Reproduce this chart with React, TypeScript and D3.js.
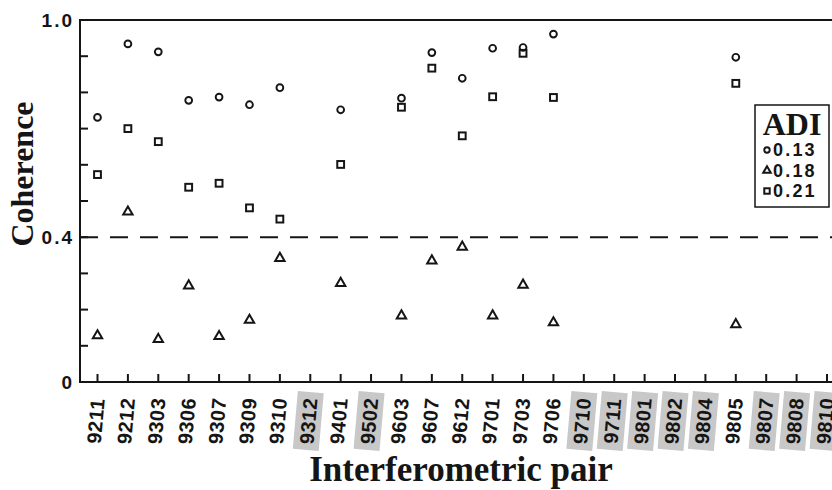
import React from 'react';
import * as d3 from 'd3';

// interferometric pairs along the x axis
const pairs = ['9211', '9212', '9303', '9306', '9307', '9309', '9310', '9312', '9401', '9502',
  '9603', '9607', '9612', '9701', '9703', '9706', '9710', '9711', '9801', '9802',
  '9804', '9805', '9807', '9808', '9810'];

// pairs with the grey box behind the label
const shadedPairs = ['9312', '9502', '9710', '9711', '9801', '9802', '9804', '9807', '9808', '9810'];

// coherence per ADI threshold (null = no point)
const adi013 = [0.731, 0.934, 0.912, 0.778, 0.787, 0.766, 0.813, null, 0.752, null,
  0.784, 0.910, 0.839, 0.922, 0.924, 0.961, null, null, null, null,
  null, 0.897, null, null, null];
const adi018 = [0.128, 0.470, 0.118, 0.266, 0.126, 0.171, 0.342, null, 0.273, null,
  0.183, 0.335, 0.373, 0.183, 0.268, 0.164, null, null, null, null,
  null, 0.159, null, null, null];
const adi021 = [0.573, 0.700, 0.664, 0.538, 0.549, 0.481, 0.450, null, 0.601, null,
  0.759, 0.867, 0.680, 0.788, 0.908, 0.786, null, null, null, null,
  null, 0.825, null, null, null];

const yTicks = [0, 0.1, 0.2, 0.3, 0.4, 0.5, 0.6, 0.7, 0.8, 0.9, 1.0];
const yLabels = [{ v: 0, t: '0' }, { v: 0.4, t: '0.4' }, { v: 1.0, t: '1.0' }];
const threshold = 0.4;
const legendItems = [{ key: 'c', label: '0.13' }, { key: 't', label: '0.18' }, { key: 's', label: '0.21' }];

const W = 832;
const H = 490;
const left = 80;
const top = 20;
const bottom = 382;
const right = 832;

const sans = '"Liberation Sans", Arial, sans-serif';
const serif = '"Liberation Serif", "Times New Roman", serif';
const ink = '#151515';

function Marker({ kind, x, y, s = 1 }: { kind: string; x: number; y: number; s?: number }) {
  if (kind === 'c') {
    return <circle cx={x} cy={y} r={3.4 * s} fill="none" stroke={ink} strokeWidth={1.9} />;
  }
  if (kind === 's') {
    const h = 3.4 * s;
    return <rect x={x - h} y={y - h} width={2 * h} height={2 * h} fill="none" stroke={ink} strokeWidth={2} />;
  }
  const tri = d3.symbol().type(d3.symbolTriangle).size(38 * s * s)();
  return <path d={tri || ''} transform={`translate(${x},${y})`} fill="none" stroke={ink} strokeWidth={2} />;
}

export default function App() {
  const x = d3.scalePoint<string>().domain(pairs).range([97.5, 827]);
  const y = d3.scaleLinear().domain([0, 1]).range([bottom, top]);

  const series = [
    { kind: 'c', values: adi013 },
    { kind: 't', values: adi018 },
    { kind: 's', values: adi021 },
  ];

  return (
    <svg width={W} height={H} style={{ position: 'absolute', left: 0, top: 0, background: '#fff' }}>
      {/* frame */}
      <line x1={left} x2={right} y1={top} y2={top} stroke={ink} strokeWidth={2} />
      <line x1={left} x2={left} y1={top - 1} y2={bottom + 1} stroke={ink} strokeWidth={2} />
      <line x1={left} x2={right} y1={bottom} y2={bottom} stroke={ink} strokeWidth={2} />

      {/* y ticks, pointing inward */}
      {yTicks.map(v => (
        <line key={v} x1={left} x2={left + 8} y1={y(v)} y2={y(v)} stroke={ink} strokeWidth={2} />
      ))}
      {yLabels.map(d => (
        <text key={d.t} x={74} y={y(d.v)} dy="0.36em" textAnchor="end" fontFamily={sans}
          fontWeight="bold" fontSize={19} letterSpacing={2} fill={ink}>{d.t}</text>
      ))}

      {/* threshold line */}
      <line x1={left} x2={right} y1={y(threshold)} y2={y(threshold)} stroke={ink}
        strokeWidth={2} strokeDasharray="18 12" />

      {/* x ticks + labels */}
      {pairs.map(p => {
        const px = x(p) as number;
        const shaded = shadedPairs.includes(p);
        return (
          <g key={p}>
            <line x1={px} x2={px} y1={bottom} y2={bottom - 8} stroke={ink} strokeWidth={2} />
            <g transform={`translate(${px - 2},421) rotate(-85)`}>
              {shaded && <rect x={-29} y={-13} width={58} height={26} fill="#c8c8c8" />}
              <text textAnchor="middle" dy="0.36em" fontFamily={sans} fontWeight="bold"
                fontSize={20} letterSpacing={0.5} fill={ink}>{p}</text>
            </g>
          </g>
        );
      })}

      {/* points */}
      {series.map(s => s.values.map((v, i) => v == null ? null : (
        <Marker key={s.kind + i} kind={s.kind} x={x(pairs[i]) as number} y={y(v)} />
      )))}

      {/* legend */}
      <rect x={755} y={105} width={74} height={102} fill="#fff" stroke={ink} strokeWidth={1.5} />
      <text x={792} y={135} textAnchor="middle" fontFamily={serif} fontWeight="bold" fontSize={32} fill={ink}>ADI</text>
      {legendItems.map((d, i) => (
        <g key={d.key}>
          <Marker kind={d.key} x={767} y={150 + i * 20.5} s={0.8} />
          <text x={773} y={150 + i * 20.5} dy="0.36em" fontFamily={sans} fontWeight="bold"
            fontSize={18} letterSpacing={2.2} fill={ink}>{d.label}</text>
        </g>
      ))}

      {/* axis titles */}
      <text x={461} y={481} textAnchor="middle" fontFamily={serif} fontWeight="bold" fontSize={35} fill={ink}>
        Interferometric pair
      </text>
      <text transform="translate(33,174) rotate(-90)" textAnchor="middle" fontFamily={serif}
        fontWeight="bold" fontSize={32} fill={ink}>Coherence</text>
    </svg>
  );
}
